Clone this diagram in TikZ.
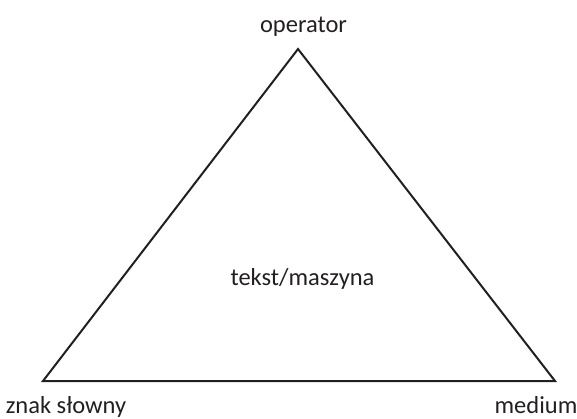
\documentclass[tikz,border=0pt]{standalone}
\usepackage{fontspec}
\setmainfont{Carlito}
\definecolor{ink}{HTML}{231F20}
\begin{document}
\begin{tikzpicture}[x=1pt,y=-1pt,
  lbl/.style={inner sep=0pt, anchor=base, text=ink, font=\fontsize{24.5}{27}\selectfont},
  edge/.style={draw=ink, line width=2pt, line join=miter}]
\useasboundingbox (0,0) rectangle (577,418);
\coordinate (top) at (298,49);
\coordinate (bl) at (43,381);
\coordinate (br) at (555,381);
\draw[edge] (top) -- (bl) -- (br) -- cycle;
\node[lbl] (op) at (303.5,32) {operator};
\node[lbl] (zn) at (66,413) {znak słowny};
\node[lbl] (md) at (536,413) {medium};
\node[lbl] (tm) at (302.5,285) {tekst/maszyna};
\end{tikzpicture}
\end{document}
